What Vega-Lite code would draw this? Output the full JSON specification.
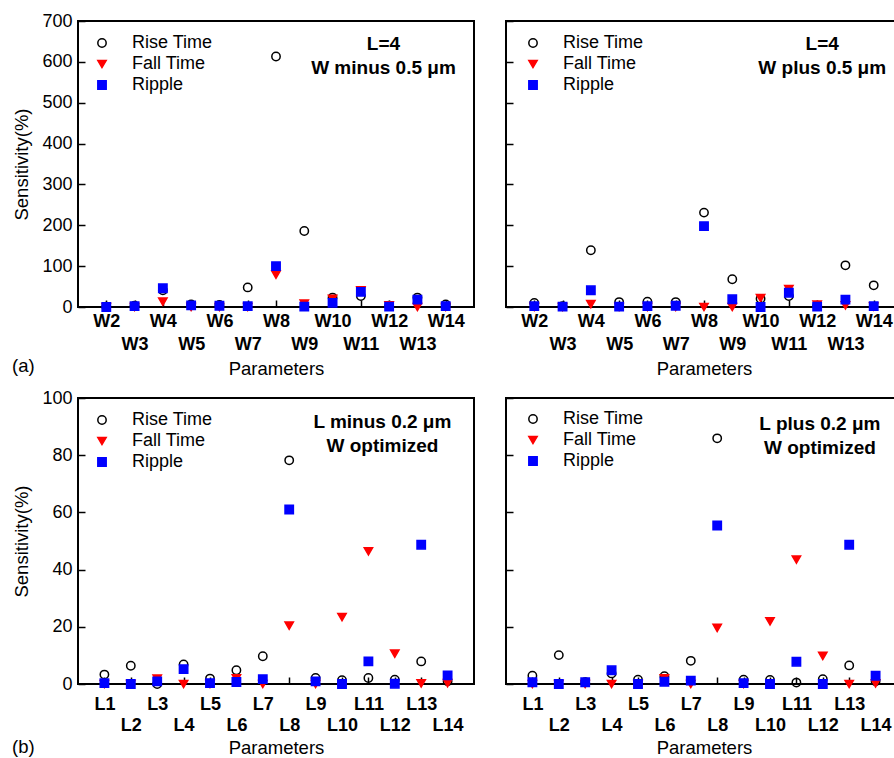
{
  "$schema": "https://vega.github.io/schema/vega-lite/v6.json",
  "padding": {"left": 11, "top": 11, "right": 0, "bottom": 0},
  "background": "white",
  "config": {
    "view": {"stroke": "black", "strokeWidth": 2},
    "font": "Liberation Sans",
    "axis": {
      "domain": false, "grid": false,
      "tickColor": "black", "tickWidth": 1.5, "tickSize": -7,
      "labelColor": "black", "labelFont": "Liberation Sans", "labelFontSize": 18,
      "titleFont": "Liberation Sans", "titleFontSize": 18.5, "titleFontWeight": "normal", "titleColor": "black"
    },
    "legend": {
      "labelFont": "Liberation Sans", "labelFontSize": 18, "labelColor": "black",
      "symbolSize": 70, "symbolStrokeWidth": 1.5, "rowPadding": 3, "labelOffset": 21,
      "padding": 0
    },
    "title": {"font": "Liberation Sans", "fontSize": 18.5, "fontWeight": "normal", "color": "black"}
  },
  "datasets": {
    "wminus": [
      {"p": 2, "s": "Rise Time", "v": 1}, {"p": 3, "s": "Rise Time", "v": 3}, {"p": 4, "s": "Rise Time", "v": 41},
      {"p": 5, "s": "Rise Time", "v": 6}, {"p": 6, "s": "Rise Time", "v": 5}, {"p": 7, "s": "Rise Time", "v": 48},
      {"p": 8, "s": "Rise Time", "v": 613}, {"p": 9, "s": "Rise Time", "v": 186}, {"p": 10, "s": "Rise Time", "v": 23},
      {"p": 11, "s": "Rise Time", "v": 27}, {"p": 12, "s": "Rise Time", "v": 3}, {"p": 13, "s": "Rise Time", "v": 23},
      {"p": 14, "s": "Rise Time", "v": 6},
      {"p": 2, "s": "Fall Time", "v": 0}, {"p": 3, "s": "Fall Time", "v": 0}, {"p": 4, "s": "Fall Time", "v": 13},
      {"p": 5, "s": "Fall Time", "v": 0}, {"p": 6, "s": "Fall Time", "v": 0}, {"p": 7, "s": "Fall Time", "v": 0},
      {"p": 8, "s": "Fall Time", "v": 79}, {"p": 9, "s": "Fall Time", "v": 8}, {"p": 10, "s": "Fall Time", "v": 20},
      {"p": 11, "s": "Fall Time", "v": 41}, {"p": 12, "s": "Fall Time", "v": 4}, {"p": 13, "s": "Fall Time", "v": 0},
      {"p": 14, "s": "Fall Time", "v": 0},
      {"p": 2, "s": "Ripple", "v": 0}, {"p": 3, "s": "Ripple", "v": 2}, {"p": 4, "s": "Ripple", "v": 46},
      {"p": 5, "s": "Ripple", "v": 4}, {"p": 6, "s": "Ripple", "v": 3}, {"p": 7, "s": "Ripple", "v": 2},
      {"p": 8, "s": "Ripple", "v": 100}, {"p": 9, "s": "Ripple", "v": 1}, {"p": 10, "s": "Ripple", "v": 10},
      {"p": 11, "s": "Ripple", "v": 37}, {"p": 12, "s": "Ripple", "v": 1}, {"p": 13, "s": "Ripple", "v": 18},
      {"p": 14, "s": "Ripple", "v": 2}
    ],
    "wplus": [
      {"p": 2, "s": "Rise Time", "v": 10}, {"p": 3, "s": "Rise Time", "v": 2}, {"p": 4, "s": "Rise Time", "v": 139},
      {"p": 5, "s": "Rise Time", "v": 12}, {"p": 6, "s": "Rise Time", "v": 13}, {"p": 7, "s": "Rise Time", "v": 12},
      {"p": 8, "s": "Rise Time", "v": 231}, {"p": 9, "s": "Rise Time", "v": 68}, {"p": 10, "s": "Rise Time", "v": 20},
      {"p": 11, "s": "Rise Time", "v": 27}, {"p": 12, "s": "Rise Time", "v": 3}, {"p": 13, "s": "Rise Time", "v": 102},
      {"p": 14, "s": "Rise Time", "v": 53},
      {"p": 2, "s": "Fall Time", "v": 0}, {"p": 3, "s": "Fall Time", "v": 0}, {"p": 4, "s": "Fall Time", "v": 7},
      {"p": 5, "s": "Fall Time", "v": 0}, {"p": 6, "s": "Fall Time", "v": 0}, {"p": 7, "s": "Fall Time", "v": 0},
      {"p": 8, "s": "Fall Time", "v": 0}, {"p": 9, "s": "Fall Time", "v": 0}, {"p": 10, "s": "Fall Time", "v": 22},
      {"p": 11, "s": "Fall Time", "v": 44}, {"p": 12, "s": "Fall Time", "v": 6}, {"p": 13, "s": "Fall Time", "v": 4},
      {"p": 14, "s": "Fall Time", "v": 1},
      {"p": 2, "s": "Ripple", "v": 2}, {"p": 3, "s": "Ripple", "v": 1}, {"p": 4, "s": "Ripple", "v": 41},
      {"p": 5, "s": "Ripple", "v": 1}, {"p": 6, "s": "Ripple", "v": 2}, {"p": 7, "s": "Ripple", "v": 3},
      {"p": 8, "s": "Ripple", "v": 198}, {"p": 9, "s": "Ripple", "v": 19}, {"p": 10, "s": "Ripple", "v": 0},
      {"p": 11, "s": "Ripple", "v": 35}, {"p": 12, "s": "Ripple", "v": 1}, {"p": 13, "s": "Ripple", "v": 18},
      {"p": 14, "s": "Ripple", "v": 2}
    ],
    "lminus": [
      {"p": 1, "s": "Rise Time", "v": 3.3}, {"p": 2, "s": "Rise Time", "v": 6.4}, {"p": 3, "s": "Rise Time", "v": 0},
      {"p": 4, "s": "Rise Time", "v": 6.8}, {"p": 5, "s": "Rise Time", "v": 1.9}, {"p": 6, "s": "Rise Time", "v": 4.8},
      {"p": 7, "s": "Rise Time", "v": 9.7}, {"p": 8, "s": "Rise Time", "v": 78.2}, {"p": 9, "s": "Rise Time", "v": 2.1},
      {"p": 10, "s": "Rise Time", "v": 1.3}, {"p": 11, "s": "Rise Time", "v": 2.1}, {"p": 12, "s": "Rise Time", "v": 1.5},
      {"p": 13, "s": "Rise Time", "v": 7.9}, {"p": 14, "s": "Rise Time", "v": 1},
      {"p": 1, "s": "Fall Time", "v": 0}, {"p": 2, "s": "Fall Time", "v": 0}, {"p": 3, "s": "Fall Time", "v": 1.9},
      {"p": 4, "s": "Fall Time", "v": 0}, {"p": 5, "s": "Fall Time", "v": 0}, {"p": 6, "s": "Fall Time", "v": 2},
      {"p": 7, "s": "Fall Time", "v": 0}, {"p": 8, "s": "Fall Time", "v": 20.4}, {"p": 9, "s": "Fall Time", "v": 0},
      {"p": 10, "s": "Fall Time", "v": 23.4}, {"p": 11, "s": "Fall Time", "v": 46.4}, {"p": 12, "s": "Fall Time", "v": 10.6},
      {"p": 13, "s": "Fall Time", "v": 0.2}, {"p": 14, "s": "Fall Time", "v": 0.3},
      {"p": 1, "s": "Ripple", "v": 0.3}, {"p": 2, "s": "Ripple", "v": 0}, {"p": 3, "s": "Ripple", "v": 0.9},
      {"p": 4, "s": "Ripple", "v": 5.2}, {"p": 5, "s": "Ripple", "v": 0.3}, {"p": 6, "s": "Ripple", "v": 0.7},
      {"p": 7, "s": "Ripple", "v": 1.7}, {"p": 8, "s": "Ripple", "v": 61}, {"p": 9, "s": "Ripple", "v": 0.9},
      {"p": 10, "s": "Ripple", "v": 0}, {"p": 11, "s": "Ripple", "v": 7.9}, {"p": 12, "s": "Ripple", "v": 0.1},
      {"p": 13, "s": "Ripple", "v": 48.7}, {"p": 14, "s": "Ripple", "v": 3}
    ],
    "lplus": [
      {"p": 1, "s": "Rise Time", "v": 2.9}, {"p": 2, "s": "Rise Time", "v": 10.1}, {"p": 3, "s": "Rise Time", "v": 0.6},
      {"p": 4, "s": "Rise Time", "v": 3.7}, {"p": 5, "s": "Rise Time", "v": 1.5}, {"p": 6, "s": "Rise Time", "v": 2.7},
      {"p": 7, "s": "Rise Time", "v": 8.1}, {"p": 8, "s": "Rise Time", "v": 85.9}, {"p": 9, "s": "Rise Time", "v": 1.5},
      {"p": 10, "s": "Rise Time", "v": 1.4}, {"p": 11, "s": "Rise Time", "v": 0.5}, {"p": 12, "s": "Rise Time", "v": 1.7},
      {"p": 13, "s": "Rise Time", "v": 6.5}, {"p": 14, "s": "Rise Time", "v": 1},
      {"p": 1, "s": "Fall Time", "v": 0}, {"p": 2, "s": "Fall Time", "v": 0}, {"p": 3, "s": "Fall Time", "v": 0},
      {"p": 4, "s": "Fall Time", "v": 0}, {"p": 5, "s": "Fall Time", "v": 0}, {"p": 6, "s": "Fall Time", "v": 2},
      {"p": 7, "s": "Fall Time", "v": 0}, {"p": 8, "s": "Fall Time", "v": 19.6}, {"p": 9, "s": "Fall Time", "v": 0},
      {"p": 10, "s": "Fall Time", "v": 21.9}, {"p": 11, "s": "Fall Time", "v": 43.5}, {"p": 12, "s": "Fall Time", "v": 9.8},
      {"p": 13, "s": "Fall Time", "v": 0}, {"p": 14, "s": "Fall Time", "v": 0.2},
      {"p": 1, "s": "Ripple", "v": 0.6}, {"p": 2, "s": "Ripple", "v": 0}, {"p": 3, "s": "Ripple", "v": 0.6},
      {"p": 4, "s": "Ripple", "v": 4.8}, {"p": 5, "s": "Ripple", "v": 0}, {"p": 6, "s": "Ripple", "v": 0.8},
      {"p": 7, "s": "Ripple", "v": 1.2}, {"p": 8, "s": "Ripple", "v": 55.4}, {"p": 9, "s": "Ripple", "v": 0.3},
      {"p": 10, "s": "Ripple", "v": 0}, {"p": 11, "s": "Ripple", "v": 7.8}, {"p": 12, "s": "Ripple", "v": 0},
      {"p": 13, "s": "Ripple", "v": 48.7}, {"p": 14, "s": "Ripple", "v": 2.9}
    ]
  },
  "resolve": {
    "scale": {"shape": "independent", "fill": "independent", "stroke": "independent"},
    "legend": {"shape": "independent", "fill": "independent", "stroke": "independent"}
  },
  "spacing": 9,
  "vconcat": [
    {
      "title": {"text": "(a)", "orient": "bottom", "anchor": "start", "offset": -22, "frame": "bounds"},
      "spacing": 29,
      "resolve": {
        "scale": {"shape": "independent", "fill": "independent", "stroke": "independent"},
        "legend": {"shape": "independent", "fill": "independent", "stroke": "independent"}
      },
      "hconcat": [
        {
          "width": 396, "height": 286,
          "resolve": {"axis": {"x": "independent"}},
          "layer": [
            {
              "data": {"name": "wminus"},
              "mark": {"type": "point", "opacity": 1, "size": 70, "strokeWidth": 1.5},
              "encoding": {
                "x": {"field": "p", "type": "quantitative", "scale": {"domain": [1, 15], "nice": false, "zero": false},
                  "axis": {"orient": "bottom", "values": [2, 3, 4, 5, 6, 7, 8, 9, 10, 11, 12, 13, 14],
                    "labelExpr": "datum.value % 2 === 0 ? 'W' + datum.value : ''", "title": null,
                    "labelFontWeight": "bold", "labelFlush": false, "labelOverlap": false, "labelPadding": 12}},
                "y": {"field": "v", "type": "quantitative", "scale": {"domain": [0, 700], "nice": false},
                  "axis": {"values": [0, 100, 200, 300, 400, 500, 600, 700], "title": "Sensitivity(%)", "labelPadding": 13, "titlePadding": 10}},
                "shape": {"field": "s", "type": "nominal", "scale": {"domain": ["Rise Time", "Fall Time", "Ripple"], "range": ["circle", "triangle-down", "square"]},
                  "legend": {"title": null, "orient": "none", "legendX": 15, "legendY": 13}},
                "fill": {"field": "s", "type": "nominal", "scale": {"domain": ["Rise Time", "Fall Time", "Ripple"], "range": ["transparent", "#ff0000", "#0000ff"]},
                  "legend": {"title": null, "orient": "none", "legendX": 15, "legendY": 13}},
                "stroke": {"field": "s", "type": "nominal", "scale": {"domain": ["Rise Time", "Fall Time", "Ripple"], "range": ["black", "#ff0000", "#0000ff"]},
                  "legend": {"title": null, "orient": "none", "legendX": 15, "legendY": 13}}
              }
            },
            {
              "data": {"values": [{}]},
              "mark": {"type": "text", "text": ["L=4", "W minus 0.5 μm"], "fontWeight": "bold", "fontSize": 19, "lineHeight": 24, "baseline": "middle", "align": "center", "font": "Liberation Sans", "color": "black"},
              "encoding": {
                "x": {"datum": 11.8, "type": "quantitative",
                  "axis": {"orient": "bottom", "values": [3, 5, 7, 9, 11, 13], "labelExpr": "'W' + datum.value", "ticks": false,
                    "labelFontWeight": "bold", "labelFlush": false, "labelOverlap": false, "labelPadding": 28,
                    "title": "Parameters", "titlePadding": 6}},
                "y": {"datum": 643.7, "type": "quantitative"}
              }
            }
          ]
        },
        {
          "width": 396, "height": 286,
          "resolve": {"axis": {"x": "independent"}},
          "layer": [
            {
              "data": {"name": "wplus"},
              "mark": {"type": "point", "opacity": 1, "size": 70, "strokeWidth": 1.5},
              "encoding": {
                "x": {"field": "p", "type": "quantitative", "scale": {"domain": [1, 15], "nice": false, "zero": false},
                  "axis": {"orient": "bottom", "values": [2, 3, 4, 5, 6, 7, 8, 9, 10, 11, 12, 13, 14],
                    "labelExpr": "datum.value % 2 === 0 ? 'W' + datum.value : ''", "title": null,
                    "labelFontWeight": "bold", "labelFlush": false, "labelOverlap": false, "labelPadding": 12}},
                "y": {"field": "v", "type": "quantitative", "scale": {"domain": [0, 700], "nice": false},
                  "axis": {"values": [0, 100, 200, 300, 400, 500, 600, 700], "title": null, "labels": false}},
                "shape": {"field": "s", "type": "nominal", "scale": {"domain": ["Rise Time", "Fall Time", "Ripple"], "range": ["circle", "triangle-down", "square"]},
                  "legend": {"title": null, "orient": "none", "legendX": 18, "legendY": 13}},
                "fill": {"field": "s", "type": "nominal", "scale": {"domain": ["Rise Time", "Fall Time", "Ripple"], "range": ["transparent", "#ff0000", "#0000ff"]},
                  "legend": {"title": null, "orient": "none", "legendX": 18, "legendY": 13}},
                "stroke": {"field": "s", "type": "nominal", "scale": {"domain": ["Rise Time", "Fall Time", "Ripple"], "range": ["black", "#ff0000", "#0000ff"]},
                  "legend": {"title": null, "orient": "none", "legendX": 18, "legendY": 13}}
              }
            },
            {
              "data": {"values": [{}]},
              "mark": {"type": "text", "text": ["L=4", "W plus 0.5 μm"], "fontWeight": "bold", "fontSize": 19, "lineHeight": 24, "baseline": "middle", "align": "center", "font": "Liberation Sans", "color": "black"},
              "encoding": {
                "x": {"datum": 12.18, "type": "quantitative",
                  "axis": {"orient": "bottom", "values": [3, 5, 7, 9, 11, 13], "labelExpr": "'W' + datum.value", "ticks": false,
                    "labelFontWeight": "bold", "labelFlush": false, "labelOverlap": false, "labelPadding": 28,
                    "title": "Parameters", "titlePadding": 6}},
                "y": {"datum": 643.7, "type": "quantitative"}
              }
            }
          ]
        }
      ]
    },
    {
      "title": {"text": "(b)", "orient": "bottom", "anchor": "start", "offset": -20, "frame": "bounds"},
      "spacing": 29,
      "resolve": {
        "scale": {"shape": "independent", "fill": "independent", "stroke": "independent"},
        "legend": {"shape": "independent", "fill": "independent", "stroke": "independent"}
      },
      "hconcat": [
        {
          "width": 396, "height": 286,
          "resolve": {"axis": {"x": "independent"}},
          "layer": [
            {
              "data": {"name": "lminus"},
              "mark": {"type": "point", "opacity": 1, "size": 70, "strokeWidth": 1.5},
              "encoding": {
                "x": {"field": "p", "type": "quantitative", "scale": {"domain": [0, 15], "nice": false, "zero": false},
                  "axis": {"orient": "bottom", "values": [1, 2, 3, 4, 5, 6, 7, 8, 9, 10, 11, 12, 13, 14],
                    "labelExpr": "datum.value % 2 === 1 ? 'L' + datum.value : ''", "title": null,
                    "labelFontWeight": "bold", "labelFlush": false, "labelOverlap": false, "labelPadding": 18}},
                "y": {"field": "v", "type": "quantitative", "scale": {"domain": [0, 100], "nice": false},
                  "axis": {"values": [0, 20, 40, 60, 80, 100], "title": "Sensitivity(%)", "labelPadding": 13, "titlePadding": 10}},
                "shape": {"field": "s", "type": "nominal", "scale": {"domain": ["Rise Time", "Fall Time", "Ripple"], "range": ["circle", "triangle-down", "square"]},
                  "legend": {"title": null, "orient": "none", "legendX": 15, "legendY": 13}},
                "fill": {"field": "s", "type": "nominal", "scale": {"domain": ["Rise Time", "Fall Time", "Ripple"], "range": ["transparent", "#ff0000", "#0000ff"]},
                  "legend": {"title": null, "orient": "none", "legendX": 15, "legendY": 13}},
                "stroke": {"field": "s", "type": "nominal", "scale": {"domain": ["Rise Time", "Fall Time", "Ripple"], "range": ["black", "#ff0000", "#0000ff"]},
                  "legend": {"title": null, "orient": "none", "legendX": 15, "legendY": 13}}
              }
            },
            {
              "data": {"values": [{}]},
              "mark": {"type": "text", "text": ["L minus 0.2 μm", "W optimized"], "fontWeight": "bold", "fontSize": 19, "lineHeight": 24, "baseline": "middle", "align": "center", "font": "Liberation Sans", "color": "black"},
              "encoding": {
                "x": {"datum": 11.53, "type": "quantitative",
                  "axis": {"orient": "bottom", "values": [2, 4, 6, 8, 10, 12, 14], "labelExpr": "'L' + datum.value", "ticks": false,
                    "labelFontWeight": "bold", "labelFlush": false, "labelOverlap": false, "labelPadding": 32,
                    "title": "Parameters", "titlePadding": 4}},
                "y": {"datum": 91.6, "type": "quantitative"}
              }
            }
          ]
        },
        {
          "width": 396, "height": 286,
          "resolve": {"axis": {"x": "independent"}},
          "layer": [
            {
              "data": {"name": "lplus"},
              "mark": {"type": "point", "opacity": 1, "size": 70, "strokeWidth": 1.5},
              "encoding": {
                "x": {"field": "p", "type": "quantitative", "scale": {"domain": [0, 15], "nice": false, "zero": false},
                  "axis": {"orient": "bottom", "values": [1, 2, 3, 4, 5, 6, 7, 8, 9, 10, 11, 12, 13, 14],
                    "labelExpr": "datum.value % 2 === 1 ? 'L' + datum.value : ''", "title": null,
                    "labelFontWeight": "bold", "labelFlush": false, "labelOverlap": false, "labelPadding": 18}},
                "y": {"field": "v", "type": "quantitative", "scale": {"domain": [0, 100], "nice": false},
                  "axis": {"values": [0, 20, 40, 60, 80, 100], "title": null, "labels": false}},
                "shape": {"field": "s", "type": "nominal", "scale": {"domain": ["Rise Time", "Fall Time", "Ripple"], "range": ["circle", "triangle-down", "square"]},
                  "legend": {"title": null, "orient": "none", "legendX": 18, "legendY": 12}},
                "fill": {"field": "s", "type": "nominal", "scale": {"domain": ["Rise Time", "Fall Time", "Ripple"], "range": ["transparent", "#ff0000", "#0000ff"]},
                  "legend": {"title": null, "orient": "none", "legendX": 18, "legendY": 12}},
                "stroke": {"field": "s", "type": "nominal", "scale": {"domain": ["Rise Time", "Fall Time", "Ripple"], "range": ["black", "#ff0000", "#0000ff"]},
                  "legend": {"title": null, "orient": "none", "legendX": 18, "legendY": 12}}
              }
            },
            {
              "data": {"values": [{}]},
              "mark": {"type": "text", "text": ["L plus 0.2 μm", "W optimized"], "fontWeight": "bold", "fontSize": 19, "lineHeight": 24, "baseline": "middle", "align": "center", "font": "Liberation Sans", "color": "black"},
              "encoding": {
                "x": {"datum": 11.89, "type": "quantitative",
                  "axis": {"orient": "bottom", "values": [2, 4, 6, 8, 10, 12, 14], "labelExpr": "'L' + datum.value", "ticks": false,
                    "labelFontWeight": "bold", "labelFlush": false, "labelOverlap": false, "labelPadding": 32,
                    "title": "Parameters", "titlePadding": 4}},
                "y": {"datum": 90.9, "type": "quantitative"}
              }
            }
          ]
        }
      ]
    }
  ]
}
